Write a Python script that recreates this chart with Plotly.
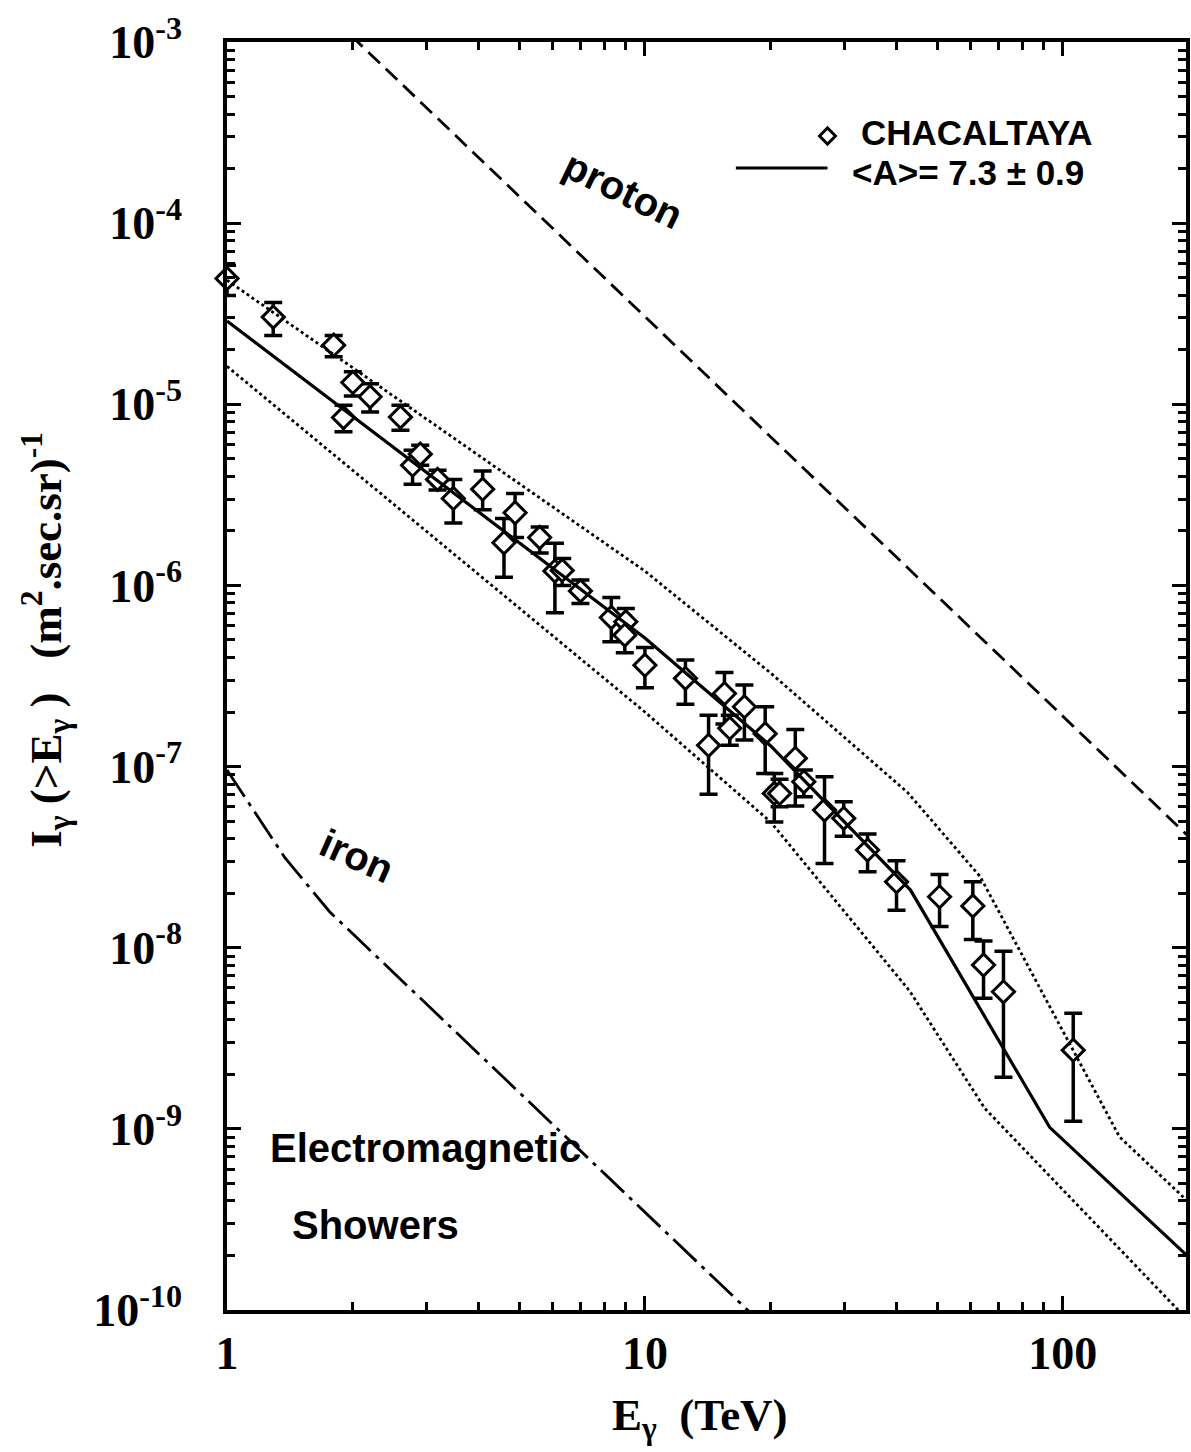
import plotly.graph_objects as go

# ---------------- data ----------------
E_data = [1.0, 1.29, 1.80, 1.90, 2.00, 2.20, 2.60, 2.78, 2.90, 3.19, 3.48, 4.09, 4.60, 4.89,
          5.60, 6.09, 6.34, 7.01, 8.31, 9.00, 8.95, 10.0, 12.5, 14.2, 15.5, 15.96, 17.3,
          19.4, 20.4, 21.0, 22.9, 24.0, 26.9, 29.9, 34.1, 40.0, 50.7, 60.9, 64.6, 72.1, 105.9]
I_data = [4.95e-5, 3.03e-5, 2.12e-5, 8.45e-6, 1.32e-5, 1.10e-5, 8.5e-6, 4.61e-6, 5.31e-6,
          3.85e-6, 3.02e-6, 3.40e-6, 1.72e-6, 2.52e-6, 1.84e-6, 1.20e-6, 1.21e-6, 9.33e-7,
          6.65e-7, 6.3e-7, 5.32e-7, 3.63e-7, 3.07e-7, 1.31e-7, 2.53e-7, 1.63e-7, 2.14e-7,
          1.52e-7, 7.11e-8, 7.11e-8, 1.11e-7, 8.24e-8, 5.75e-8, 5.18e-8, 3.46e-8, 2.31e-8,
          1.91e-8, 1.70e-8, 8.03e-9, 5.71e-9, 2.72e-9]
I_hi = [5.85e-5, 3.65e-5, 2.40e-5, 9.88e-6, 1.51e-5, 1.30e-5, 9.88e-6, 5.58e-6, 5.94e-6,
        4.33e-6, 3.85e-6, 4.28e-6, 2.34e-6, 3.22e-6, 2.10e-6, 1.71e-6, 1.41e-6, 1.07e-6,
        8.59e-7, 7.46e-7, 6.2e-7, 4.55e-7, 3.87e-7, 1.92e-7, 3.31e-7, 1.92e-7, 2.82e-7,
        2.14e-7, 9.16e-8, 8.5e-8, 1.60e-7, 9.57e-8, 8.79e-8, 6.40e-8, 4.25e-8, 3.02e-8,
        2.54e-8, 2.31e-8, 1.09e-8, 9.57e-9, 4.35e-9]
I_lo = [3.99e-5, 2.40e-5, 1.83e-5, 7.05e-6, 1.11e-5, 9.08e-6, 7.2e-6, 3.62e-6, 4.6e-6,
        3.36e-6, 2.21e-6, 2.62e-6, 1.11e-6, 1.84e-6, 1.51e-6, 7.06e-7, 1.0e-6, 7.96e-7,
        4.89e-7, 5.3e-7, 4.25e-7, 2.72e-7, 2.21e-7, 7.03e-8, 1.72e-7, 1.31e-7, 1.40e-7,
        9.16e-8, 4.95e-8, 6.0e-8, 6.05e-8, 6.81e-8, 2.92e-8, 4.13e-8, 2.63e-8, 1.61e-8,
        1.31e-8, 1.11e-8, 5.26e-9, 1.93e-9, 1.10e-9]

# <A> = 7.3 fit (solid) and its +-0.9 band (dotted)
E_fit = [1.0, 10.0, 20.0, 43.2, 93.0, 200.0]
I_fit = [2.88e-5, 5.12e-7, 1.30e-7, 2.08e-8, 1.02e-9, 1.96e-10]
E_up = [1.0, 10.0, 20.0, 42.5, 63.4, 136.7, 200.0]
I_up = [4.84e-5, 1.20e-6, 3.28e-7, 7.2e-8, 2.47e-8, 9.02e-10, 3.94e-10]
E_low = [1.0, 10.0, 20.0, 43.0, 65.0, 200.0]
I_low = [1.62e-5, 2.0e-7, 4.94e-8, 5.77e-9, 1.30e-9, 8.7e-11]

# pure proton / pure iron primaries
E_proton = [1.8, 200.0]
I_proton = [1.34e-3, 4.11e-8]
E_iron = [1.0, 1.377, 1.76, 20.0]
I_iron = [9.57e-8, 3.13e-8, 1.58e-8, 7.55e-11]

x_ticks = [1, 10, 100]
x_ticktext = ["1", "10", "100"]
y_exps = [-10, -9, -8, -7, -6, -5, -4, -3]
y_ticks = [10.0 ** e for e in y_exps]
y_ticktext = ["10<sup>%d</sup>" % e for e in y_exps]
x_minor = [k * 10 ** d for d in range(0, 3) for k in range(2, 10) if k * 10 ** d <= 200]
y_minor = [k * 10.0 ** e for e in range(-10, -3) for k in range(2, 10)]

# ---------------- figure ----------------
W, H = 1191, 1452
L, R, T, B = 227, 1, 42, 142
pw, ph = W - L - R, H - T - B


def px(x):
    return (x - L) / pw


def py(y):
    return (H - B - y) / ph


fig = go.Figure()

fig.add_trace(go.Scatter(
    x=E_data, y=I_data, mode="markers", cliponaxis=False,
    marker=dict(symbol="diamond", size=17, color="white", line=dict(color="black", width=3)),
    error_y=dict(type="data", symmetric=False,
                 array=[h - v for h, v in zip(I_hi, I_data)],
                 arrayminus=[v - l for v, l in zip(I_data, I_lo)],
                 color="black", thickness=3.5, width=9),
    showlegend=False))

fig.add_trace(go.Scatter(x=E_up, y=I_up, mode="lines",
                         line=dict(color="black", width=2.8, dash="dot"), showlegend=False))
fig.add_trace(go.Scatter(x=E_low, y=I_low, mode="lines",
                         line=dict(color="black", width=2.8, dash="dot"), showlegend=False))
fig.add_trace(go.Scatter(x=E_fit, y=I_fit, mode="lines",
                         line=dict(color="black", width=3.2), showlegend=False))
fig.add_trace(go.Scatter(x=E_proton, y=I_proton, mode="lines",
                         line=dict(color="black", width=2.8, dash="16px,8px"), showlegend=False))
fig.add_trace(go.Scatter(x=E_iron, y=I_iron, mode="lines",
                         line=dict(color="black", width=2.8, dash="32px,7px,4px,7px"),
                         showlegend=False))

tickfont = dict(family="Liberation Serif", size=46, color="black", weight="bold")
axis_common = dict(type="log", showgrid=False, zeroline=False, showline=True, linecolor="black",
                   linewidth=3.5, mirror="ticks", ticks="inside", ticklen=14, tickwidth=3,
                   tickcolor="black", tickmode="array", tickfont=tickfont)

fig.update_xaxes(**axis_common, range=[0, 2.2947], tickvals=x_ticks, ticktext=x_ticktext,
                 ticklabelstandoff=0,
                 minor=dict(tickmode="array", tickvals=x_minor, ticks="inside", ticklen=8,
                            tickwidth=3, tickcolor="black", showgrid=False))
fig.update_yaxes(**axis_common, range=[-10, -3], tickvals=y_ticks, ticktext=y_ticktext,
                 ticklabelstandoff=32,
                 minor=dict(tickmode="array", tickvals=y_minor, ticks="inside", ticklen=8,
                            tickwidth=3, tickcolor="black", showgrid=False))

sans = dict(family="Liberation Sans", color="black", weight="bold")
serif = dict(family="Liberation Serif", color="black", weight="bold")
annotations = [
    dict(x=px(862), y=py(132), text="CHACALTAYA", xanchor="left", yanchor="middle",
         font=dict(**sans, size=35)),
    dict(x=px(853), y=py(172), text="&lt;A&gt;= 7.3 ± 0.9", xanchor="left", yanchor="middle",
         font=dict(**sans, size=35)),
    dict(x=px(625), y=py(190), text="proton", textangle=26, xanchor="center", yanchor="middle",
         font=dict(**sans, size=40)),
    dict(x=px(358), y=py(856), text="iron", textangle=24, xanchor="center", yanchor="middle",
         font=dict(**sans, size=40)),
    dict(x=px(268), y=py(1148), text="Electromagnetic", xanchor="left", yanchor="middle",
         font=dict(**sans, size=40)),
    dict(x=px(290), y=py(1225), text="Showers", xanchor="left", yanchor="middle",
         font=dict(**sans, size=40)),
    dict(x=px(702), y=py(1418), text="E<sub>γ</sub>\u00a0\u00a0(TeV)", xanchor="center",
         yanchor="middle", font=dict(**serif, size=45)),
    dict(x=px(45), y=py(640),
         text="I<sub>γ</sub>\u00a0(&gt;E<sub>γ</sub>\u00a0)\u00a0\u00a0\u00a0(m<sup>2</sup>.sec.sr)<sup>-1</sup>",
         textangle=-90, xanchor="center", yanchor="middle", font=dict(**serif, size=45)),
]
for a in annotations:
    a.update(xref="paper", yref="paper", showarrow=False)

dx, dy = 8 / pw, 8 / ph
cx, cy = px(830), py(136)
shapes = [
    dict(type="line", xref="paper", yref="paper", x0=px(738), x1=px(830), y0=py(168), y1=py(168),
         line=dict(color="black", width=3)),
    dict(type="path", xref="paper", yref="paper",
         path=f"M {cx - dx},{cy} L {cx},{cy + dy} L {cx + dx},{cy} L {cx},{cy - dy} Z",
         line=dict(color="black", width=3), fillcolor="white"),
]

fig.update_layout(width=W, height=H, margin=dict(l=L, r=R, t=T, b=B),
                  plot_bgcolor="white", paper_bgcolor="white",
                  annotations=annotations, shapes=shapes, showlegend=False)

fig.write_html("out.html")
